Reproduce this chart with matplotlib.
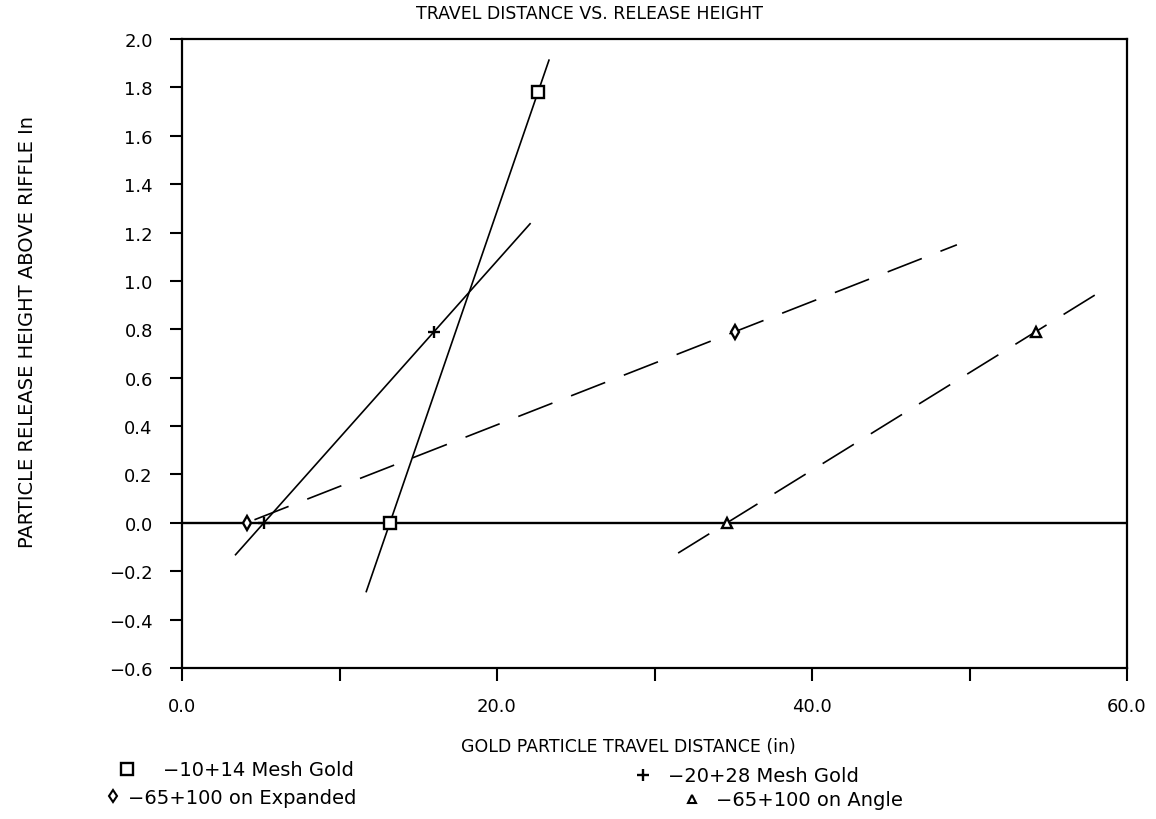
import numpy as np
import matplotlib
matplotlib.use("Agg")
import matplotlib.pyplot as plt
from matplotlib.lines import Line2D

# ---- data ----
sq_x = [13.2, 22.6]          # -10+14 Mesh Gold
sq_y = [0.0, 1.78]
plus_x = [5.2, 16.0]         # -20+28 Mesh Gold
plus_y = [0.0, 0.79]
dia_x = [4.1, 35.1]          # -65+100 on Expanded
dia_y = [0.0, 0.79]
tri_x = [34.6, 54.2]         # -65+100 on Angle
tri_y = [0.0, 0.79]

# extent of each fitted line (x values)
sq_fit_x = [11.7, 23.3]
plus_fit_x = [3.4, 22.1]
dia_fit_x = [4.6, 49.2]
tri_fit_x = [31.5, 58.5]

labels = ["\u221210+14 Mesh Gold", "\u221220+28 Mesh Gold",
          "\u221265+100 on Expanded", "\u221265+100 on Angle"]

x_ticks = [0, 10, 20, 30, 40, 50, 60]
x_ticklabels = ["0.0", "", "20.0", "", "40.0", "", "60.0"]
y_ticks = [-0.6, -0.4, -0.2, 0.0, 0.2, 0.4, 0.6, 0.8, 1.0, 1.2, 1.4, 1.6, 1.8, 2.0]

title = "TRAVEL DISTANCE VS. RELEASE HEIGHT"
xlabel = "GOLD PARTICLE TRAVEL DISTANCE (in)"
ylabel = "PARTICLE RELEASE HEIGHT ABOVE RIFFLE In"

plt.rcParams['font.family'] = ['DejaVu Sans']
W, H = 1156, 820
fig = plt.figure(figsize=(W / 100, H / 100), dpi=100)
left, right, top, bottom = 182, 1127, 40, 669
ax = fig.add_axes([left / W, 1 - bottom / H, (right - left) / W, (bottom - top) / H])

ax.set_xlim(0, 60)
ax.set_ylim(-0.6, 2.0)

def fit_line(xs, ys, xr):
    p = np.polyfit(xs, ys, 1)
    xr = np.asarray(xr)
    return xr, np.polyval(p, xr)

lw = 1.2
# zero line
ax.axhline(0.0, color='black', lw=1.7, zorder=2)

fx, fy = fit_line(sq_x, sq_y, sq_fit_x)
ax.plot(fx, fy, color='black', lw=lw, zorder=3)
fx, fy = fit_line(plus_x, plus_y, plus_fit_x)
ax.plot(fx, fy, color='black', lw=lw, zorder=3)
fx, fy = fit_line(dia_x, dia_y, dia_fit_x)
ax.plot(fx, fy, color='black', lw=lw, dashes=(22, 12), zorder=3)
fx, fy = fit_line(tri_x, tri_y, tri_fit_x)
ax.plot(fx, fy, color='black', lw=lw, dashes=(22, 12), zorder=3)

ax.plot(sq_x, sq_y, ls='none', marker='s', ms=8, mfc='white', mec='black', mew=1.7, zorder=5)
ax.plot(plus_x, plus_y, ls='none', marker='+', ms=8, mec='black', mew=1.7, zorder=5)
ax.plot(dia_x, dia_y, ls='none', marker='d', ms=7, mfc='white', mec='black', mew=1.7, zorder=5)
ax.plot(tri_x, tri_y, ls='none', marker='^', ms=7, mfc='white', mec='black', mew=1.7, zorder=5)

ax.set_xticks(x_ticks)
ax.set_xticklabels(x_ticklabels)
ax.set_yticks(y_ticks)
ax.set_yticklabels([f"{v:.1f}".replace("-", "\u2212") for v in y_ticks])
ax.tick_params(axis='both', direction='out', length=9, width=1.5, labelsize=13)
ax.tick_params(axis='y', pad=12)
ax.tick_params(axis='x', pad=12)
for s in ax.spines.values():
    s.set_linewidth(1.6)

fig.text(590 / W, 1 - 14 / H, title, ha='center', va='center', fontsize=12.5)
fig.text(628 / W, 1 - 747 / H, xlabel, ha='center', va='center', fontsize=12.5)
fig.text(28 / W, 1 - 332 / H, ylabel, ha='center', va='center', rotation=90, fontsize=14)

# legend entries (placed as in the reference)
def key(x, y, **kw):
    fig.add_artist(Line2D([x / W], [1 - y / H], transform=fig.transFigure, ls='none', color='black', **kw))

fs_leg = 14
key(127, 770, marker='s', ms=8, mfc='white', mec='black', mew=1.7)
fig.text(163 / W, 1 - 771 / H, labels[0], ha='left', va='center', fontsize=fs_leg)
key(643, 776, marker='+', ms=8, mec='black', mew=1.7)
fig.text(668 / W, 1 - 777 / H, labels[1], ha='left', va='center', fontsize=fs_leg)
key(113, 797, marker='d', ms=6, mfc='white', mec='black', mew=1.5)
fig.text(128 / W, 1 - 799 / H, labels[2], ha='left', va='center', fontsize=fs_leg)
key(692, 800, marker='^', ms=6, mfc='white', mec='black', mew=1.5)
fig.text(716 / W, 1 - 801 / H, labels[3], ha='left', va='center', fontsize=fs_leg)

fig.savefig("out.png", dpi=100, facecolor='white')
